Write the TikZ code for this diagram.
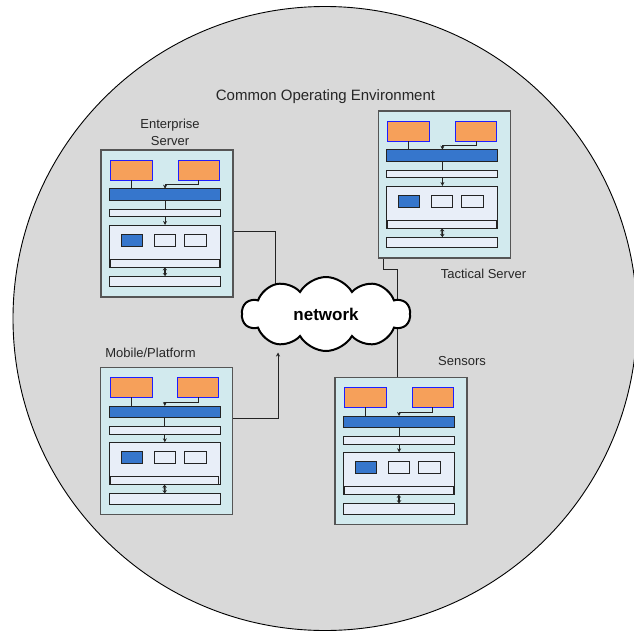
\documentclass[tikz,border=0pt]{standalone}
\usepackage{fontspec}
\setmainfont{Liberation Sans}
\usetikzlibrary{shapes.symbols,arrows.meta}
\definecolor{bggray}{RGB}{217,217,217}
\definecolor{boxfill}{RGB}{210,234,238}
\definecolor{lightbar}{RGB}{232,238,248}
\definecolor{barblue}{RGB}{54,118,204}
\definecolor{orangefill}{RGB}{246,160,90}
\definecolor{orangeline}{RGB}{30,30,255}
\definecolor{boxline}{RGB}{85,85,85}
\definecolor{barline}{RGB}{35,35,35}
\tikzset{
  base/.style={inner sep=0pt, outer sep=0pt},
  outerbox/.style={base, draw=boxline, line width=1.1pt, fill=boxfill},
  orangebox/.style={base, draw=orangeline, line width=0.9pt, fill=orangefill},
  bluebar/.style={base, draw=barline, line width=1pt, fill=barblue},
  litebar/.style={base, draw=barline, line width=1pt, fill=lightbar},
  whitebox/.style={base, draw=barline, line width=1pt, fill=lightbar},
  conn/.style={draw=barline, line width=1pt},
  arr/.style={conn, -{Stealth[length=4pt,width=4pt]}},
  dblarr/.style={conn, line width=1.8pt, {Stealth[length=3pt,width=4.5pt]}-{Stealth[length=3pt,width=4.5pt]}},
  title/.style={base, font=\fontsize{13}{15}\selectfont, text=black!85},
}
\newcommand\unitbox[3]{%
\begin{scope}[shift={(#2,#3)}]
  \node[outerbox, minimum width=132pt, minimum height=147pt] (#1) at (66,73.5) {};
  \node[orangebox, minimum width=42pt, minimum height=20pt] (#1-ol) at (30.5,20) {};
  \node[orangebox, minimum width=41pt, minimum height=20pt] (#1-or) at (97.7,20) {};
  \node[bluebar, minimum width=111pt, minimum height=11.3pt] (#1-bb) at (64.1,44.35) {};
  \node[litebar, minimum width=111pt, minimum height=7.7pt] (#1-tb) at (64.1,62.85) {};
  \node[litebar, minimum width=111pt, minimum height=42.4pt] (#1-big) at (64.1,96.2) {};
  \node[litebar, minimum width=108.4pt, minimum height=8.4pt] (#1-ib) at (63.8,113.2) {};
  \node[bluebar, minimum width=21pt, minimum height=12pt] (#1-s1) at (31.1,90.4) {};
  \node[whitebox, minimum width=21pt, minimum height=12pt] (#1-s2) at (64.1,90.4) {};
  \node[whitebox, minimum width=21.7pt, minimum height=12pt] (#1-s3) at (94.45,90.4) {};
  \node[litebar, minimum width=111pt, minimum height=10.7pt] (#1-bot) at (64.1,131.35) {};
  \coordinate (#1-j) at (64.1,34.7);
  \draw[conn] (#1-ol.south) -- (#1-ol.south |- #1-bb.north);
  \draw[arr] (#1-or.south) |- (#1-j) -- (#1-bb.north);
  \draw[conn] (#1-bb.south) -- (#1-tb.north);
  \draw[arr] (#1-tb.south) -- (#1-big.north);
  \draw[dblarr] (#1-ib.south) -- (#1-bot.north);
\end{scope}}
\begin{document}
\begin{tikzpicture}[x=1pt,y=-1pt]
  \useasboundingbox (0,0) rectangle (634,632);
  \clip (0,0) rectangle (634,632);
  \node[base, circle, draw=black, line width=0.9pt, fill=bggray, minimum size=624pt] (env) at (325,318.5) {};
  \node[title, font=\fontsize{15}{17}\selectfont] (envlabel) at (325.5,97) {Common Operating Environment};
  % connectors behind the cloud
  \coordinate (p1) at (275,231.7);
  \coordinate (p1n) at (275,305);
  \coordinate (q1) at (383.3,269.3);
  \coordinate (q2) at (397.7,269.3);
  \coordinate (q3) at (397.7,377.3);
  \coordinate (q0) at (383.3,258.3);
  \coordinate (p2) at (278,418.3);
  \coordinate (p3) at (278,352.5);
  \coordinate (pe) at (233,231.7);
  \coordinate (pm) at (232.7,418.3);
  \draw[conn] (pe) -- (p1) -- (p1n);
  \draw[conn] (q0) -- (q1) -- (q2) -- (q3);
  % cloud
  \node[cloud, cloud puffs=10, cloud puff arc=120, aspect=2.2, draw=black, fill=white, line width=2pt,
        minimum width=168pt, minimum height=74pt, inner sep=0pt, font=\fontsize{17}{19}\selectfont\bfseries] (net) at (326,314) {network};
  \draw[arr] (pm) -- (p2) -- (p3);
  % units
  \unitbox{ent}{101}{150}
  \unitbox{tac}{378.3}{111}
  \unitbox{mob}{100.7}{367.3}
  \unitbox{sen}{335}{377.3}
  \node[title] (entlabel1) at (170,125) {Enterprise};
  \node[title] (entlabel2) at (170,141) {Server};
  \node[title] (taclabel) at (483.5,274) {Tactical Server};
  \node[title] (moblabel) at (150.5,352.7) {Mobile/Platform};
  \node[title] (senlabel) at (462,361) {Sensors};
\end{tikzpicture}
\end{document}
